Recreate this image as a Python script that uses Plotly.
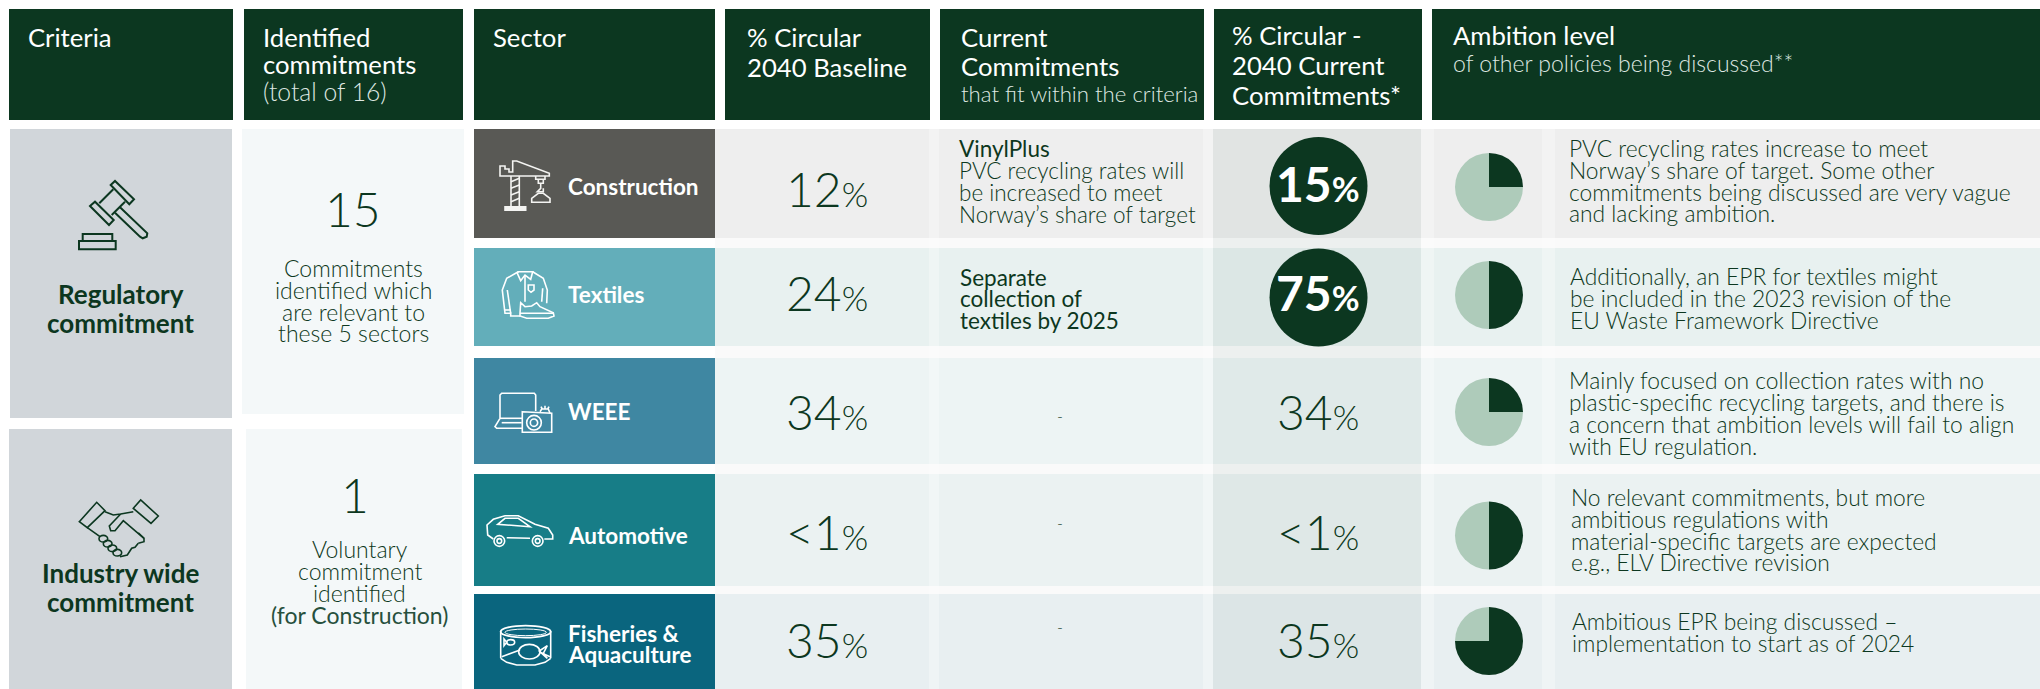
import plotly.graph_objects as go

# ---------- data ----------
criteria = [["Regulatory", "commitment"], ["Industry wide", "commitment"]]
commit_counts = ["15", "1"]
commit_notes = [["Commitments", "identified which", "are relevant to", "these 5 sectors"],
                ["Voluntary", "commitment", "identified", "(for Construction)"]]
sectors = [["Construction"], ["Textiles"], ["WEEE"], ["Automotive"], ["Fisheries &", "Aquaculture"]]
baseline_pct = ["12", "24", "34", "<1", "35"]
current_pct = ["15", "75", "34", "<1", "35"]
highlighted = [True, True, False, False, False]
commit_heads = [["VinylPlus"], ["Separate", "collection of", "textiles by 2025"], [], [], []]
commit_bodies = [["PVC recycling rates will", "be increased to meet", "Norway\u2019s share of target"], [], ["-"], ["-"], ["-"]]
ambition_quarters = [1, 2, 1, 2, 3]
ambition_rest = [3, 2, 3, 2, 1]
ambition_text = [
    ["PVC recycling rates increase to meet", "Norway\u2019s share of target. Some other",
     "commitments being discussed are very vague", "and lacking ambition."],
    ["Additionally, an EPR for textiles might", "be included in the 2023 revision of the",
     "EU Waste Framework Directive"],
    ["Mainly focused on collection rates with no", "plastic-specific recycling targets, and there is",
     "a concern that ambition levels will fail to align", "with EU regulation."],
    ["No relevant commitments, but more", "ambitious regulations with",
     "material-specific targets are expected", "e.g., ELV Directive revision"],
    ["Ambitious EPR being discussed \u2013", "implementation to start as of 2024"],
]

# ---------- layout and style ----------
W, H = 2040, 689
FONT = "Lato"
DARK = "#0c3720"
PIE_LIGHT = "#aecbba"
SECTOR_COL = ["#595955", "#63aeba", "#3f87a2", "#177d87", "#0a657e"]
ROW_COL = ["#eeeeee", "#e8f1f0", "#edf4f4", "#ebf2f2", "#e8eff1"]
ROWS = [(129, 238), (248, 346), (358, 464), (474, 586), (594, 689)]
PIE_Y = [187, 295, 412, 535.5, 641]
PIE_X, PIE_R = 1489, 34
CIRC_Y = [186, 297.5]

shapes, ann = [], []

def rect(x0, y0, x1, y1, c):
    shapes.append(dict(type="rect", x0=x0, y0=y0, x1=x1, y1=y1, fillcolor=c, line_width=0, layer="below"))

def T(x, y, t, size, color=DARK, anchor="left", weight=400):
    ann.append(dict(x=x - (1.5 if anchor == "left" else 0), y=y - 1, text=t, showarrow=False, xref="x", yref="y",
                    xanchor=anchor, yanchor="middle", borderpad=0,
                    font=dict(family=FONT, size=size, color=color, weight=weight)))

def pct(t):
    return f'{t}<span style="font-size:34px">%</span>'

# header
HDR = [(9, 233), (244, 463), (474, 715), (725, 930), (940, 1204), (1214, 1422), (1432, 2040)]
for a, b in HDR:
    rect(a, 9, b, 120, DARK)
HS, LS = 25.7, 22.5
WH = "#ffffff"
SUB = "#dfe8e2"
T(28, 38, "Criteria", HS, WH)
T(263, 38, "Identified", HS, WH); T(263, 65, "commitments", HS, WH); T(263, 92, "(total of 16)", HS - 1, SUB, weight=300)
T(493.5, 38, "Sector", HS, WH)
T(747.5, 38, "% Circular", HS, WH); T(747.5, 68, "2040 Baseline", HS, WH)
T(961.5, 38, "Current", HS, WH); T(961.5, 67, "Commitments", HS, WH)
T(961.5, 94, "that fit within the criteria", 22.2, SUB, weight=300)
T(1232, 36, "% Circular -", HS, WH); T(1232, 66, "2040 Current", HS, WH); T(1232, 96, "Commitments*", HS, WH)
T(1453, 36, "Ambition level", HS, WH); T(1453, 64, "of other policies being discussed**", 23, SUB, weight=300)

# left panels
rect(10, 129, 232, 418, "#d1d6da")
rect(9, 429, 232, 689, "#d1d6da")
rect(242, 129, 464, 414, "#f4f8f9")
rect(246, 429, 462, 689, "#f4f8f9")
for y, t in zip((295, 324), criteria[0]):
    T(120.5, y, t, 26, anchor="center", weight=700)
for y, t in zip((574, 603), criteria[1]):
    T(120.5, y, t, 26, anchor="center", weight=700)
T(353, 209, commit_counts[0], 48, anchor="center", weight=300)
T(355, 495, commit_counts[1], 48, anchor="center", weight=300)
for y, t in zip((269, 291, 313, 334), commit_notes[0]):
    T(353, y, t, 23, anchor="center", weight=300)
for i, (y, t) in enumerate(zip((550, 572, 594, 616), commit_notes[1])):
    T(359.5, y, t, 23, "#27503d" if i == 3 else DARK, anchor="center", weight=400 if i == 3 else 300)

# table body background
rect(715, 129, W, H, "#fafafa")
for (a, b), c in zip(ROWS, ROW_COL):
    rect(715, a, W, b, c)
for a, b in [(929, 939), (1203, 1213), (1421, 1434), (1542, 1555)]:
    rect(a, 129, b, H, "rgba(255,255,255,0.3)")
rect(1213, 129, 1421, H, "rgba(0,55,32,0.05)")
for (a, b), c in zip(ROWS, SECTOR_COL):
    rect(474, a, 715, b, c)

# sector labels
SEC_Y = [[187], [295], [412], [536], [634, 655]]
for ys, ts in zip(SEC_Y, sectors):
    for y, t in zip(ys, ts):
        T(568, y, t, 22.5, WH, weight=700)

# percentages
BASE_Y = [189, 293, 412, 532, 640]
CURR_Y = [184, 293, 412, 532, 640]
for y, t in zip(BASE_Y, baseline_pct):
    T(826.5, y, pct(t), 48, anchor="center", weight=300)
for y, t, h in zip(CURR_Y, current_pct, highlighted):
    T(1318, y, pct(t), 48, WH if h else DARK, anchor="center", weight=700 if h else 300)

# current commitments
for y, t in zip((149,), commit_heads[0]):
    T(959, y, t, LS)
for y, t in zip((171, 193, 215), commit_bodies[0]):
    T(959, y, t, LS, weight=300)
for y, t in zip((278, 299, 321), commit_heads[1]):
    T(960.5, y, t, LS)
for y, r in zip((416, 523, 627), (2, 3, 4)):
    T(1060, y, commit_bodies[r][0], 16, anchor="center", weight=300)

# ambition text
AMB_POS = [(1569.5, (149, 171, 193, 214)), (1570, (277, 299, 321)), (1569.5, (381, 403, 425, 447)),
           (1571, (498, 520, 542, 563)), (1572, (622, 644))]
for (x, ys), lines in zip(AMB_POS, ambition_text):
    for y, t in zip(ys, lines):
        T(x, y, t, 22.8, weight=300)

# ---------- icons ----------
def poly(ox, oy, pts, color, close=False, width=1.6, fill=None):
    p = "M" + " L".join(f"{ox + a / 3:.1f},{oy + b / 3:.1f}" for a, b in pts) + (" Z" if close else "")
    shapes.append(dict(type="path", path=p, line=dict(color=color, width=width), xref="x", yref="y",
                       fillcolor=fill or "rgba(0,0,0,0)", layer="above"))

def circ(ox, oy, cx, cy, rx, ry, color, width=1.6):
    shapes.append(dict(type="circle", x0=ox + (cx - rx) / 3, x1=ox + (cx + rx) / 3, y0=oy + (cy - ry) / 3,
                       y1=oy + (cy + ry) / 3, line=dict(color=color, width=width), layer="above"))

# gavel
o = (70, 170)
poly(*o, [(122, 45), (135, 33), (192, 88), (178, 103)], DARK, True, 2)
poly(*o, [(60, 108), (75, 95), (131, 150), (117, 165)], DARK, True, 2)
poly(*o, [(88, 100), (130, 58)], DARK, width=2)
poly(*o, [(125, 135), (165, 95)], DARK, width=2)
poly(*o, [(150, 112), (232, 190), (230, 200), (218, 205), (210, 200), (135, 128)], DARK, width=2)
poly(*o, [(38, 213), (38, 192), (127, 192), (127, 213)], DARK, width=2)
poly(*o, [(27, 213), (137, 213), (137, 238), (27, 238)], DARK, True, 2)
# handshake
o = (70, 490)
poly(*o, [(28, 95), (80, 37), (105, 62), (52, 113)], DARK, True)
poly(*o, [(190, 55), (212, 30), (265, 78), (243, 100)], DARK, True)
poly(*o, [(105, 65), (130, 75), (152, 72), (190, 65)], DARK)
poly(*o, [(152, 72), (118, 108), (122, 122), (135, 122), (160, 92), (222, 145), (222, 155), (205, 160)], DARK)
poly(*o, [(205, 128), (222, 145)], DARK)
poly(*o, [(52, 113), (90, 140)], DARK)
poly(*o, [(205, 160), (195, 172), (185, 175), (172, 195), (150, 200)], DARK)
for cx, cy in [(100, 146), (113, 161), (127, 175), (142, 188)]:
    circ(*o, cx, cy, 13, 10, DARK)
# crane
o = (490, 150)
LW = "#f4f4f2"
poly(*o, [(30, 78), (30, 48), (45, 48), (45, 57), (57, 57), (57, 66), (68, 66), (68, 33), (80, 33), (178, 70), (178, 78)], LW, True)
poly(*o, [(63, 78), (63, 170)], LW); poly(*o, [(88, 78), (88, 170)], LW)
for y in (95, 115, 135, 155):
    poly(*o, [(63, y), (88, y - 10)], LW)
poly(*o, [(45, 170), (107, 170), (107, 181), (45, 181)], LW, True, fill=LW)
poly(*o, [(137, 78), (137, 88), (165, 88), (165, 78)], LW)
poly(*o, [(145, 88), (145, 100), (160, 100), (160, 88)], LW)
poly(*o, [(152, 100), (152, 115), (142, 125), (160, 125), (160, 115)], LW)
poly(*o, [(125, 157), (125, 145), (145, 130), (160, 130), (180, 145), (180, 157)], LW, True)
# shirt and shoe
poly(*o, [(85, 365), (50, 385), (37, 420), (45, 490), (62, 490), (62, 498), (90, 498)], WH)
poly(*o, [(85, 365), (128, 365), (122, 388), (105, 375), (92, 392), (82, 370)], WH, True)
poly(*o, [(105, 375), (105, 455)], WH)
poly(*o, [(128, 365), (160, 385), (172, 420), (170, 460)], WH)
poly(*o, [(52, 420), (62, 490)], WH); poly(*o, [(158, 415), (155, 455)], WH)
poly(*o, [(115, 405), (132, 405), (132, 420), (123, 427), (115, 420)], WH, True)
poly(*o, [(45, 480), (62, 480)], WH)
poly(*o, [(90, 490), (92, 458), (105, 470), (125, 468), (140, 458), (150, 470), (190, 488), (192, 498), (175, 505), (110, 505), (90, 498)], WH, True)
poly(*o, [(90, 490), (192, 490)], WH)
# laptop and camera
o = (485, 385)
poly(*o, [(45, 100), (45, 30), (50, 25), (148, 25), (152, 30), (152, 78)], WH)
poly(*o, [(45, 100), (30, 125), (35, 130), (112, 130)], WH)
poly(*o, [(45, 100), (112, 100)], WH)
poly(*o, [(50, 113), (110, 113)], WH)
poly(*o, [(112, 80), (200, 85), (200, 142), (112, 142)], WH, True)
poly(*o, [(165, 80), (170, 72), (190, 72), (195, 85)], WH)
circ(*o, 147, 113, 22, 22, WH); circ(*o, 147, 113, 11, 11, WH)
poly(*o, [(168, 65), (172, 72)], WH); poly(*o, [(180, 62), (180, 72)], WH); poly(*o, [(192, 65), (188, 72)], WH)
# car
poly(*o, [(25, 462), (8, 450), (6, 420), (25, 403), (60, 392), (100, 392), (150, 418), (190, 430), (203, 450), (203, 462), (178, 462)], WH)
poly(*o, [(65, 458), (135, 460)], WH)
poly(*o, [(38, 418), (60, 400), (100, 400), (135, 425)], WH, True)
for cx in (43, 158):
    circ(*o, cx, 468, 16, 16, WH); circ(*o, cx, 468, 7, 7, WH)
# fish tank
o = (490, 615)
circ(*o, 107, 50, 75, 18, WH, 1.8); circ(*o, 107, 52, 62, 10, WH, 1)
poly(*o, [(32, 48), (32, 130)], WH); poly(*o, [(182, 48), (182, 130)], WH)
poly(*o, [(32, 130), (50, 142), (80, 150), (135, 150), (165, 142), (182, 130)], WH)
poly(*o, [(35, 125), (90, 105)], WH); poly(*o, [(150, 112), (180, 125)], WH)
circ(*o, 62, 82, 12, 8, WH)
poly(*o, [(50, 82), (42, 72), (42, 92)], WH, True)
circ(*o, 118, 110, 32, 22, WH)
poly(*o, [(148, 108), (172, 92), (160, 115), (172, 130)], WH, True)

# ---------- figure ----------
fig = go.Figure()
# highlighted circles behind the bold percentages
fig.add_trace(go.Scatter(
    x=[1318.5 for h in highlighted if h], y=CIRC_Y, mode="markers",
    marker=dict(size=98, color=DARK, line_width=0), hoverinfo="skip", showlegend=False))
# ambition pies
for y, q, r in zip(PIE_Y, ambition_quarters, ambition_rest):
    fig.add_trace(go.Pie(
        values=[q, r], sort=False, direction="clockwise", rotation=0, textinfo="none", hoverinfo="skip",
        marker=dict(colors=[DARK, PIE_LIGHT], line_width=0), showlegend=False,
        domain=dict(x=[(PIE_X - PIE_R) / W, (PIE_X + PIE_R) / W], y=[1 - (y + PIE_R) / H, 1 - (y - PIE_R) / H])))

fig.update_layout(
    width=W, height=H, margin=dict(l=0, r=0, t=0, b=0), paper_bgcolor="white", plot_bgcolor="white",
    xaxis=dict(range=[0, W], visible=False, fixedrange=True),
    yaxis=dict(range=[H, 0], visible=False, fixedrange=True),
    shapes=shapes, annotations=ann, showlegend=False)

fig.write_html("out.html", config=dict(displayModeBar=False),
               post_script="document.body.style.margin='0';document.body.style.overflow='hidden';")
